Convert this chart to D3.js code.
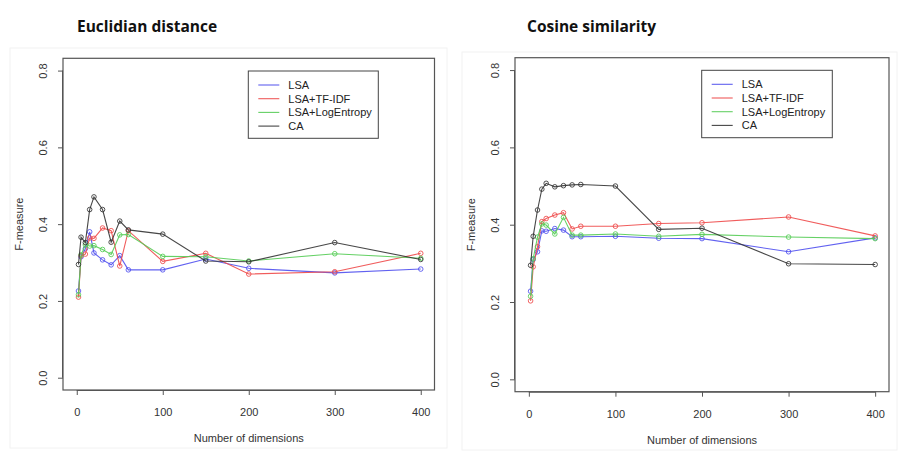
<!DOCTYPE html>
<html>
<head>
<meta charset="utf-8">
<script src="https://cdn.jsdelivr.net/npm/d3@7"></script>
<style>
  html, body { margin: 0; padding: 0; background: #fff; }
  svg { display: block; }
</style>
</head>
<body>
<svg id="chart" width="907" height="458"></svg>
<script>
// ---------- data ----------
const dims = [2, 5, 10, 15, 20, 30, 40, 50, 60, 100, 150, 200, 300, 400];
const seriesNames = ["LSA", "LSA+TF-IDF", "LSA+LogEntropy", "CA"];
const seriesColors = ["#5050ee", "#ee4a4a", "#55cc55", "#333333"];
const xTicks = [0, 100, 200, 300, 400];
const yTicks = [0.0, 0.2, 0.4, 0.6, 0.8];
const yTickLabels = ["0.0", "0.2", "0.4", "0.6", "0.8"];
const titles = ["Euclidian distance", "Cosine similarity"];

// Euclidian distance panel
const eucLSA     = [0.226, 0.315, 0.336, 0.380, 0.325, 0.307, 0.294, 0.318, 0.281, 0.281, 0.309, 0.285, 0.273, 0.283];
const eucTFIDF   = [0.210, 0.318, 0.322, 0.364, 0.363, 0.390, 0.383, 0.291, 0.383, 0.303, 0.324, 0.270, 0.276, 0.324];
const eucLogEnt  = [0.216, 0.320, 0.346, 0.343, 0.344, 0.334, 0.321, 0.372, 0.373, 0.316, 0.315, 0.304, 0.323, 0.311];
const eucCA      = [0.295, 0.366, 0.352, 0.438, 0.471, 0.438, 0.353, 0.408, 0.385, 0.374, 0.304, 0.302, 0.352, 0.308];

// Cosine similarity panel
const cosLSA     = [0.228, 0.310, 0.330, 0.384, 0.383, 0.390, 0.386, 0.369, 0.369, 0.370, 0.365, 0.364, 0.330, 0.366];
const cosTFIDF   = [0.203, 0.291, 0.343, 0.408, 0.416, 0.425, 0.431, 0.389, 0.396, 0.396, 0.403, 0.405, 0.420, 0.371];
const cosLogEnt  = [0.215, 0.312, 0.368, 0.402, 0.399, 0.376, 0.419, 0.373, 0.373, 0.376, 0.370, 0.375, 0.368, 0.364];
const cosCA      = [0.295, 0.370, 0.438, 0.492, 0.507, 0.498, 0.501, 0.503, 0.504, 0.500, 0.388, 0.391, 0.299, 0.297];

const panels = [
  { title: titles[0], series: [eucLSA, eucTFIDF, eucLogEnt, eucCA],
    frame: [10, 48, 447, 448], box: [63, 58.3, 434.5, 390],
    titleX: 77, legend: [248.3, 71, 378.3, 138.3], yLabX: 43, fmX: 19, tickY: 412, xLabY: 442 },
  { title: titles[1], series: [cosLSA, cosTFIDF, cosLogEnt, cosCA],
    frame: [462, 52, 897, 450], box: [515, 57.7, 889, 391.7],
    titleX: 527, legend: [701.7, 70.3, 832.3, 137.7], yLabX: 495, fmX: 471, tickY: 414, xLabY: 444 }
];

const svg = d3.select("#chart");
const font = "'Liberation Sans', Arial, sans-serif";

panels.forEach(p => {
  const g = svg.append("g");
  // faint panel frame
  g.append("rect")
    .attr("x", p.frame[0]).attr("y", p.frame[1])
    .attr("width", p.frame[2] - p.frame[0]).attr("height", p.frame[3] - p.frame[1])
    .attr("fill", "none").attr("stroke", "#f2f2f2").attr("stroke-width", 1);

  // title
  g.append("text")
    .attr("x", p.titleX).attr("y", 32)
    .attr("font-family", "'Open Sans', Lato, sans-serif")
    .attr("font-weight", "bold").attr("font-size", 15.5)
    .attr("fill", "#111")
    .text(p.title);

  const [bl, bt, br, bb] = p.box;
  const x = d3.scaleLinear().domain([-16, 416]).range([bl, br]);
  const y = d3.scaleLinear().domain([-0.032, 0.832]).range([bb, bt]);

  // plot box
  g.append("rect")
    .attr("x", bl).attr("y", bt).attr("width", br - bl).attr("height", bb - bt)
    .attr("fill", "none").attr("stroke", "#555").attr("stroke-width", 1.2);

  // x axis
  const xAxis = d3.axisBottom(x).tickValues(xTicks).tickSize(5).tickSizeOuter(0).tickFormat(d3.format("d"));
  const xg = g.append("g").attr("transform", `translate(0,${bb})`).call(xAxis);
  xg.select(".domain")
    .attr("d", `M${x(0)},0.5H${x(400)}`).attr("stroke", "#555");
  xg.selectAll(".tick line").attr("stroke", "#555");
  xg.selectAll(".tick text")
    .attr("y", p.tickY - bb).attr("dy", "0.35em")
    .attr("font-family", font).attr("font-size", 11).attr("fill", "#333");

  // y axis
  const yAxis = d3.axisLeft(y).tickValues(yTicks).tickSize(5).tickSizeOuter(0)
    .tickFormat((d, i) => yTickLabels[i]);
  const yg = g.append("g").attr("transform", `translate(${bl},0)`).call(yAxis);
  yg.select(".domain").attr("d", `M-0.5,${y(0)}V${y(0.8)}`).attr("stroke", "#555");
  yg.selectAll(".tick line").attr("stroke", "#555");
  yg.selectAll(".tick text").remove();
  yg.selectAll(".tick").append("text")
    .attr("transform", `translate(${p.yLabX - bl},0) rotate(-90)`)
    .attr("text-anchor", "middle").attr("dy", "0.35em")
    .attr("font-family", font).attr("font-size", 11).attr("fill", "#333")
    .text((d, i) => yTickLabels[i]);

  // axis titles
  g.append("text")
    .attr("x", x(200)).attr("y", p.xLabY)
    .attr("text-anchor", "middle")
    .attr("font-family", font).attr("font-size", 11).attr("fill", "#333")
    .text("Number of dimensions");
  g.append("text")
    .attr("transform", `translate(${p.fmX},${y(0.4)}) rotate(-90)`)
    .attr("text-anchor", "middle").attr("dy", "0.35em")
    .attr("font-family", font).attr("font-size", 11).attr("fill", "#333")
    .text("F-measure");

  // series
  const line = d3.line().x((d, i) => x(dims[i])).y(d => y(d));
  p.series.forEach((vals, si) => {
    const sg = g.append("g");
    sg.append("path").datum(vals)
      .attr("d", line).attr("fill", "none")
      .attr("stroke", seriesColors[si]).attr("stroke-width", 1.1).attr("opacity", 0.9);
    sg.selectAll("circle").data(vals).join("circle")
      .attr("cx", (d, i) => x(dims[i])).attr("cy", d => y(d))
      .attr("r", 2.3).attr("fill", "none")
      .attr("stroke", seriesColors[si]).attr("stroke-width", 1).attr("opacity", 0.85);
  });

  // legend
  const [ll, lt, lr, lb] = p.legend;
  g.append("rect")
    .attr("x", ll).attr("y", lt).attr("width", lr - ll).attr("height", lb - lt)
    .attr("fill", "#fff").attr("stroke", "#444").attr("stroke-width", 1);
  seriesNames.forEach((name, i) => {
    const yy = lt + 14 + i * 13.7;
    g.append("line")
      .attr("x1", ll + 10).attr("x2", ll + 31).attr("y1", yy).attr("y2", yy)
      .attr("stroke", seriesColors[i]).attr("stroke-width", 1.1).attr("opacity", 0.9);
    g.append("text")
      .attr("x", ll + 40).attr("y", yy).attr("dy", "0.35em")
      .attr("font-family", font).attr("font-size", 11).attr("fill", "#222")
      .text(name);
  });
});
</script>
</body>
</html>
